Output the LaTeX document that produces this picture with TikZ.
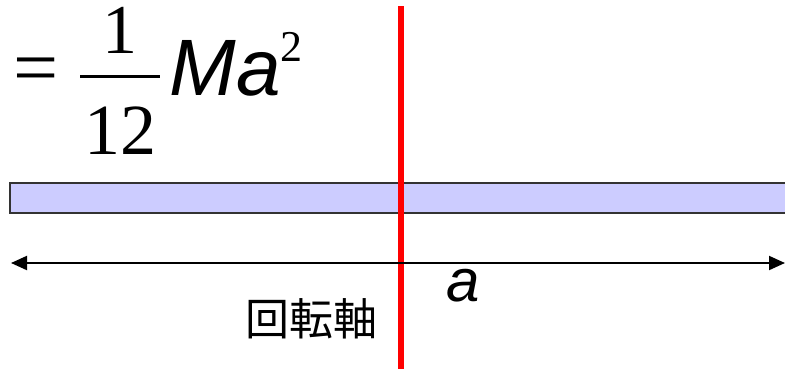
\documentclass[tikz,border=0pt]{standalone}
\usepackage{fontspec}
\setmainfont{Liberation Serif}
\newfontfamily\arialfont{Liberation Sans}
\newfontfamily\cjkfont{Noto Sans CJK JP}
\usepackage{xcolor}
\definecolor{ink}{HTML}{000000}
\definecolor{rodfill}{HTML}{CCCCFF}
\definecolor{rodedge}{HTML}{333333}
\definecolor{axisred}{HTML}{FF0000}
\usetikzlibrary{arrows.meta}
\tikzset{
  >={Triangle[length=16pt, width=14pt]},
  glyph/.style={inner sep=0pt, outer sep=0pt, text=ink},
  serif/.style={glyph, font=\fontsize{#1}{#1}\selectfont},
  italic/.style={glyph, font=\arialfont\itshape\fontsize{#1}{#1}\selectfont},
  rod/.style={draw=rodedge, fill=rodfill, line width=2pt},
  axis/.style={draw=axisred, line width=6pt},
  dim/.style={<->, line width=2pt, color=ink},
}

\begin{document}
\begin{tikzpicture}[x=1pt, y=-1pt]
  \useasboundingbox (0,0) rectangle (785,368);

  % formula
  \node[serif=80] (eq) at (36,76) {=};
  \node[serif=70] (num) at (120,30) {1};
  \node[serif=72] (den) at (120,131) {12};
  \draw[line width=3pt] (80,76) -- (160,76);
  \node[italic=80] (mass) at (225,68) {Ma};
  \node[serif=44] (sq) at (291,47) {2};

  % rod and axis
  \draw[rod] (10,183) rectangle (800,213);
  \draw[axis] (401,6) -- (401,380);

  % length
  \coordinate (left) at (11,263);
  \coordinate (right) at (785,263);
  \draw[dim] (left) -- (right);
  \node[italic=60] (len) at (463,286) {a};
  \node[glyph, font=\cjkfont\fontsize{44}{44}\selectfont] (axlabel) at (311,319) {回転軸};
\end{tikzpicture}
\end{document}
